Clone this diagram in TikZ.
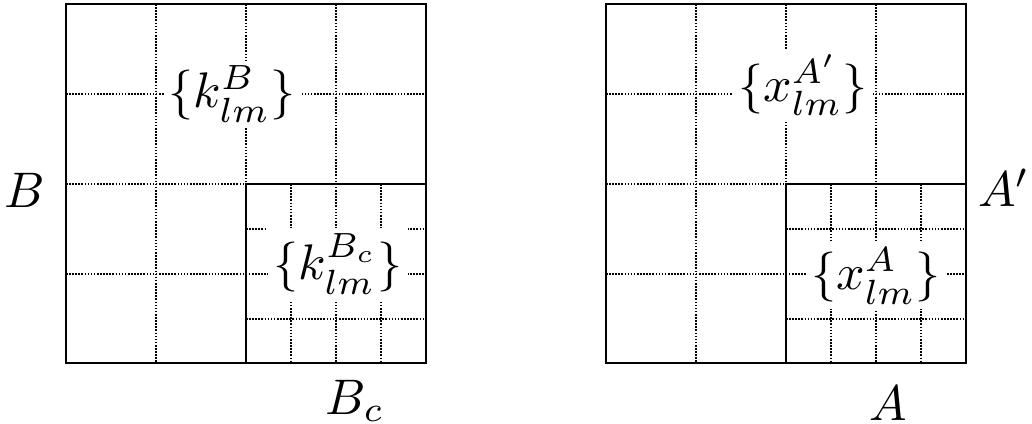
\documentclass[tikz,border=0pt]{standalone}
\begin{document}
\begin{tikzpicture}[x=0.2pt,y=-0.2pt,
  frame/.style={line width=0.45pt},
  grid/.style={line width=0.4pt,dash pattern=on 0.32pt off 0.3pt},
  lab/.style={fill=white,inner sep=1pt},
  side/.style={inner sep=0pt}]
\useasboundingbox (0,0) rectangle (1032,424);
\foreach \ox in {0,540}{
  \begin{scope}[xshift=\ox*0.2pt]
  \foreach \x in {156,246,336} \draw[grid] (\x,4) -- (\x,363);
  \foreach \y in {94,184,274} \draw[grid] (66,\y) -- (426,\y);
  \foreach \x in {291,381} \draw[grid] (\x,184) -- (\x,363);
  \foreach \y in {229,319} \draw[grid] (246,\y) -- (426,\y);
  \draw[frame] (66,4) rectangle (426,363);
  \draw[frame] (246,184) rectangle (426,363);
  \end{scope}
}
\node[lab] (kB) at (232,94) {$\{k^{B}_{lm}\}$};
\node[lab] (kBc) at (338,264) {$\{k^{B_c}_{lm}\}$};
\node[lab] (xAp) at (803,85) {$\{x^{A'}_{lm}\}$};
\node[lab] (xA) at (876,276) {$\{x^{A}_{lm}\}$};
\node[side] (B) at (25,190) {$B$};
\node[side] (Bc) at (355,401) {$B_c$};
\node[side] (Ap) at (1004,188) {$A'$};
\node[side] (A) at (888,403) {$A$};
\end{tikzpicture}
\end{document}
